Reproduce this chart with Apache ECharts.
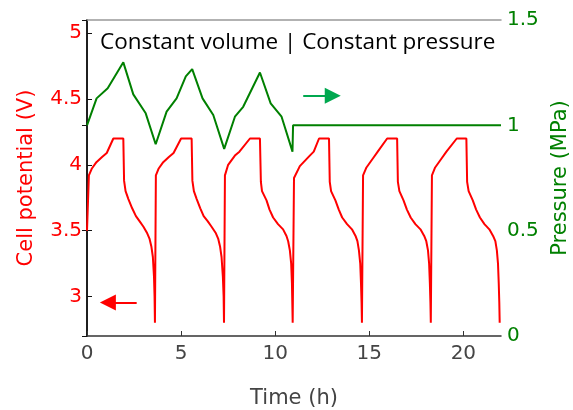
<!DOCTYPE html>
<html>
<head>
<meta charset="utf-8">
<script src="https://cdn.jsdelivr.net/npm/echarts@6/dist/echarts.min.js"></script>
<style>html,body{margin:0;padding:0;background:#fff}#c{width:573px;height:410px}</style>
</head>
<body>
<div id="c"></div>
<script>
// Cell potential (V) vs time (h), one array per cycle
const cycle1 = [[0,3.5],[0.1,3.92],[0.25,3.97],[0.5,4.02],[0.8,4.06],[1.05,4.09],[1.4,4.2],[1.93,4.2],[1.97,3.88],[2.05,3.80],[2.2,3.74],[2.4,3.67],[2.6,3.61],[2.8,3.57],[3.0,3.53],[3.2,3.48],[3.32,3.44],[3.42,3.38],[3.5,3.30],[3.56,3.15],[3.59,3.0],[3.61,2.8]];
const cycle2 = [[3.63,2.8],[3.66,3.92],[3.8,3.97],[4.05,4.02],[4.35,4.06],[4.6,4.09],[5.0,4.2],[5.56,4.2],[5.6,3.88],[5.68,3.80],[5.83,3.74],[6.02,3.67],[6.2,3.61],[6.42,3.57],[6.62,3.53],[6.85,3.48],[6.97,3.44],[7.07,3.38],[7.15,3.30],[7.22,3.15],[7.26,3.0],[7.28,2.8]];
const cycle3 = [[7.30,2.8],[7.33,3.92],[7.5,4.0],[7.86,4.07],[8.1,4.1],[8.66,4.2],[9.19,4.2],[9.24,3.87],[9.3,3.80],[9.54,3.73],[9.7,3.66],[9.89,3.60],[10.15,3.55],[10.42,3.51],[10.6,3.46],[10.69,3.42],[10.78,3.35],[10.85,3.25],[10.89,3.1],[10.91,2.95],[10.93,2.8]];
const cycle4 = [[10.96,2.8],[11.0,3.9],[11.31,3.99],[11.84,4.07],[12.05,4.1],[12.33,4.2],[12.86,4.2],[12.9,3.87],[12.97,3.80],[13.2,3.73],[13.38,3.66],[13.56,3.60],[13.82,3.55],[14.08,3.51],[14.27,3.46],[14.37,3.42],[14.45,3.35],[14.52,3.25],[14.56,3.1],[14.59,2.95],[14.61,2.8]];
const cycle5 = [[14.63,2.8],[14.67,3.92],[14.85,3.98],[15.2,4.05],[15.45,4.1],[15.95,4.2],[16.48,4.2],[16.52,3.87],[16.6,3.80],[16.82,3.73],[17.0,3.66],[17.2,3.60],[17.45,3.55],[17.72,3.51],[17.92,3.46],[18.03,3.42],[18.12,3.35],[18.18,3.25],[18.22,3.1],[18.25,2.95],[18.27,2.8]];
const cycle6 = [[18.29,2.8],[18.33,3.92],[18.5,3.98],[18.85,4.05],[19.1,4.1],[19.65,4.2],[20.16,4.2],[20.2,3.87],[20.28,3.80],[20.5,3.73],[20.68,3.66],[20.88,3.60],[21.12,3.55],[21.38,3.51],[21.58,3.46],[21.7,3.42],[21.78,3.35],[21.84,3.25],[21.88,3.1],[21.91,2.95],[21.93,2.8]];

// Pressure (MPa) vs time (h)
const pressure = [[0,1.0],[0.51,1.128],[1.1,1.176],[1.93,1.299],[2.46,1.147],[3.12,1.057],[3.65,0.91],[4.23,1.065],[4.76,1.128],[5.25,1.232],[5.59,1.267],[6.14,1.128],[6.71,1.049],[7.29,0.888],[7.86,1.041],[8.3,1.088],[9.19,1.251],[9.76,1.104],[10.34,1.041],[10.92,0.875],[10.95,1.0],[22,1.0]];

// Ticks
const xTicks = [0,5,10,15,20];
const vTicks = [3,3.5,4,4.5,5];
const pTicks = [0,0.5,1,1.5];

// Arrow annotations (data coordinates: tail -> head centre)
const redArrow = {from:[2.64,2.955], to:[1.11,2.955]};
const greenArrow = {from:[11.49,1.14], to:[13.06,1.14]};

const voltage = [].concat(cycle1,cycle2,cycle3,cycle4,cycle5,cycle6);

const chart = echarts.init(document.getElementById('c'), null, {renderer:'canvas'});
const F = 'DejaVu Sans';
chart.setOption({
  animation:false,
  backgroundColor:'#fff',
  grid:{left:87,right:72,top:20,bottom:74,containLabel:false,outerBoundsMode:'none'},
  xAxis:[{
    type:'value',min:0,max:22,position:'bottom',
    name:'Time (h)',nameLocation:'middle',nameGap:52,
    nameTextStyle:{color:'#444',fontFamily:F,fontSize:21},
    axisLine:{lineStyle:{color:'#333',width:1.5}},
    axisTick:{inside:true,length:5,customValues:xTicks,lineStyle:{color:'#333'}},
    axisLabel:{customValues:xTicks,color:'#444',fontFamily:F,fontSize:20,margin:8},
    splitLine:{show:false}
  },{
    type:'value',min:0,max:22,position:'top',
    axisLine:{show:true,lineStyle:{color:'#999',width:1.5}},
    axisTick:{show:false},axisLabel:{show:false},splitLine:{show:false}
  }],
  yAxis:[{
    type:'value',min:2.7,max:5.1,position:'left',
    name:'Cell potential (V)',nameLocation:'middle',nameGap:50,
    nameTextStyle:{color:'#ff0000',fontFamily:F,fontSize:21},
    axisLine:{show:true,lineStyle:{color:'#111',width:1.5}},
    axisTick:{inside:true,length:5,customValues:vTicks,lineStyle:{color:'#111'}},
    axisLabel:{customValues:vTicks,color:'#ff0000',fontFamily:F,fontSize:20,margin:5},
    splitLine:{show:false}
  },{
    type:'value',min:0,max:1.5,interval:0.5,position:'right',
    name:'Pressure (MPa)',nameLocation:'middle',nameGap:47,
    nameTextStyle:{color:'#008000',fontFamily:F,fontSize:21},
    axisLine:{show:true,lineStyle:{color:'#111',width:1.5}},
    axisTick:{inside:true,length:5,customValues:pTicks,lineStyle:{color:'#111'}},
    axisLabel:{customValues:pTicks,color:'#008000',fontFamily:F,fontSize:20,margin:6,
      formatter:v=>String(v)},
    splitLine:{show:false}
  }],
  graphic:[{
    type:'text',left:100,top:31,z:100,
    style:{text:'Constant volume | Constant pressure',fill:'#000',
      font:'22.5px "Open Sans"'}
  }],
  series:[{
    type:'line',xAxisIndex:0,yAxisIndex:0,data:voltage,showSymbol:false,
    lineStyle:{color:'#ff0000',width:2},itemStyle:{color:'#ff0000'},
    markLine:{silent:true,symbol:['none','triangle'],symbolSize:16,
      label:{show:false},lineStyle:{color:'#ff0000',width:2,type:'solid'},
      data:[[{coord:redArrow.from},{coord:redArrow.to}]]}
  },{
    type:'line',xAxisIndex:0,yAxisIndex:1,data:pressure,showSymbol:false,
    lineStyle:{color:'#008000',width:2},itemStyle:{color:'#008000'},
    markLine:{silent:true,symbol:['none','triangle'],symbolSize:16,
      label:{show:false},lineStyle:{color:'#00a84f',width:2,type:'solid'},
      itemStyle:{color:'#00a84f'},
      data:[[{coord:greenArrow.from},{coord:greenArrow.to}]]}
  }]
});
</script>
</body>
</html>
